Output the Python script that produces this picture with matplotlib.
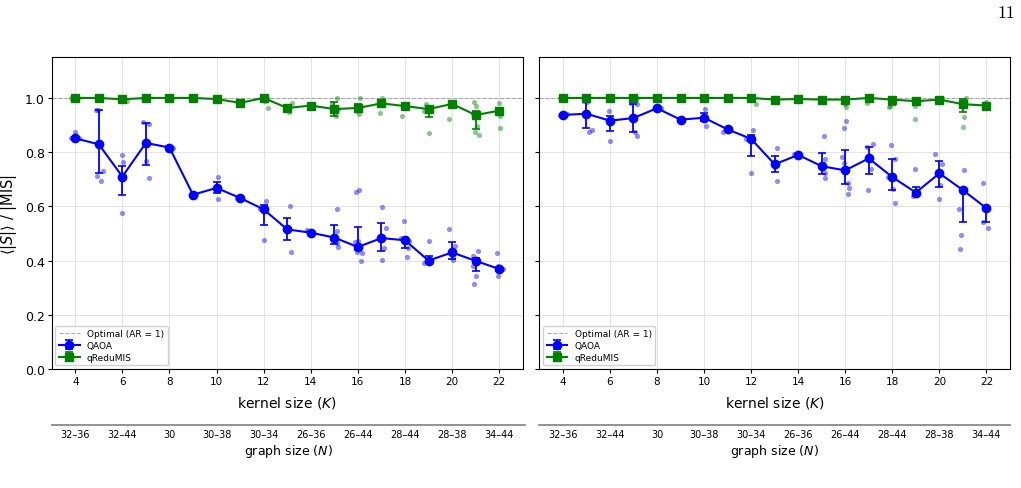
import matplotlib
matplotlib.use("Agg")
import matplotlib.pyplot as plt

# ---------------- data ----------------
kernel = [4, 5, 6, 7, 8, 9, 10, 11, 12, 13, 14, 15, 16, 17, 18, 19, 20, 21, 22]
kernel_ticks = [4, 6, 8, 10, 12, 14, 16, 18, 20, 22]
graph_labels = ["32–36", "32–44", "30", "30–38", "30–34",
                "26–36", "26–44", "28–44", "28–38", "34–44"]

# left panel
L_qaoa_mean = [0.851, 0.829, 0.710, 0.834, 0.817, 0.643, 0.668, 0.631, 0.589, 0.515,
               0.503, 0.485, 0.450, 0.483, 0.475, 0.400, 0.430, 0.399, 0.369]
L_qaoa_lo = [0.005, 0.106, 0.068, 0.082, 0.004, 0.0, 0.020, 0.004, 0.056, 0.040,
             0.006, 0.024, 0.012, 0.049, 0.030, 0.006, 0.024, 0.037, 0.006]
L_qaoa_hi = [0.005, 0.127, 0.040, 0.073, 0.004, 0.0, 0.021, 0.004, 0.017, 0.043,
             0.006, 0.045, 0.073, 0.057, 0.005, 0.018, 0.040, 0.011, 0.006]
L_redu_mean = [1.0, 1.0, 0.995, 1.0, 1.0, 1.0, 0.996, 0.982, 1.0, 0.963,
               0.972, 0.959, 0.963, 0.980, 0.970, 0.959, 0.978, 0.937, 0.953]
L_redu_lo = [0.0, 0.0, 0.003, 0.002, 0.0, 0.0, 0.002, 0.003, 0.010, 0.006,
             0.004, 0.024, 0.015, 0.005, 0.006, 0.029, 0.010, 0.051, 0.010]
L_redu_hi = [0.0, 0.0, 0.003, 0.002, 0.0, 0.0, 0.002, 0.003, 0.010, 0.006,
             0.004, 0.027, 0.015, 0.005, 0.006, 0.010, 0.010, 0.016, 0.010]

L_qaoa_pts_k = [3.89, 3.97, 4.17, 3.80, 4.87, 4.98, 4.94, 5.19, 5.08, 5.99, 5.97, 6.02,
                6.87, 7.12, 6.99, 7.12, 8.03, 8.17, 8.99, 9.13, 10.06, 10.07, 9.94,
                10.87, 11.04, 12.09, 12.00, 11.86, 13.12, 13.16, 13.02, 13.84, 13.93, 14.06,
                15.12, 15.15, 15.13, 15.12, 14.98, 15.94, 16.04, 15.99, 15.87, 16.14, 16.17, 15.97,
                17.01, 17.18, 17.12, 17.01, 17.97, 18.07, 18.13, 18.18, 17.85,
                19.02, 18.82, 19.02, 19.87, 20.13, 20.04, 19.96, 20.04,
                20.89, 21.11, 20.91, 21.01, 20.94, 21.08, 21.91, 21.94, 22.07, 22.18, 21.96]
L_qaoa_pts_v = [0.851, 0.873, 0.851, 0.851, 0.957, 0.955, 0.713, 0.729, 0.694, 0.790, 0.574, 0.765,
                0.911, 0.905, 0.766, 0.706, 0.817, 0.815, 0.643, 0.645, 0.710, 0.627, 0.667,
                0.631, 0.628, 0.621, 0.475, 0.590, 0.600, 0.432, 0.515, 0.513, 0.498, 0.503,
                0.589, 0.451, 0.510, 0.464, 0.486, 0.654, 0.662, 0.474, 0.470, 0.397, 0.427, 0.433,
                0.597, 0.521, 0.445, 0.401, 0.545, 0.414, 0.445, 0.474, 0.483,
                0.472, 0.392, 0.400, 0.515, 0.453, 0.401, 0.430, 0.412,
                0.416, 0.435, 0.379, 0.343, 0.312, 0.394, 0.427, 0.344, 0.369, 0.368, 0.379]
L_redu_pts_k = [3.84, 4.13, 4.91, 5.05, 6.18, 6.87, 7.11, 8.10, 12.14, 12.20, 12.07,
                13.21, 13.08, 13.02, 13.99, 15.12, 15.09, 14.92, 15.15, 16.11, 15.94, 16.04, 15.97,
                17.01, 16.94, 17.05, 17.89, 18.00, 18.91, 19.02, 18.82, 19.87, 20.09, 20.00,
                20.94, 21.01, 21.08, 20.96, 21.15, 20.91, 22.00, 22.04, 22.04]
L_redu_pts_v = [1.0, 1.0, 1.0, 1.0, 0.990, 0.998, 1.0, 1.0, 1.0, 0.962, 0.988,
                0.980, 0.947, 0.954, 0.972, 1.0, 0.935, 0.980, 0.959, 1.0, 0.974, 0.941, 0.953,
                1.0, 0.943, 0.988, 0.935, 0.972, 0.978, 0.871, 0.953, 0.922, 0.983, 0.972,
                0.984, 0.969, 0.897, 0.873, 0.865, 0.941, 0.982, 0.935, 0.888]

# right panel
R_qaoa_mean = [0.937, 0.942, 0.916, 0.926, 0.962, 0.920, 0.927, 0.884, 0.849, 0.755,
               0.790, 0.748, 0.733, 0.777, 0.708, 0.651, 0.722, 0.660, 0.593]
R_qaoa_lo = [0.005, 0.054, 0.038, 0.053, 0.003, 0.003, 0.013, 0.004, 0.062, 0.029,
             0.004, 0.030, 0.052, 0.059, 0.046, 0.011, 0.052, 0.116, 0.049]
R_qaoa_hi = [0.005, 0.046, 0.016, 0.051, 0.003, 0.003, 0.016, 0.004, 0.016, 0.031,
             0.004, 0.049, 0.076, 0.043, 0.067, 0.022, 0.047, 0.004, 0.010]
R_redu_mean = [1.0, 1.0, 1.0, 1.0, 1.0, 1.0, 1.0, 1.0, 1.0, 0.994,
               0.996, 0.994, 0.994, 1.0, 0.994, 0.988, 0.994, 0.977, 0.972]
R_redu_lo = [0.0, 0.0, 0.0, 0.0, 0.0, 0.0, 0.0, 0.0, 0.0, 0.003,
             0.002, 0.003, 0.004, 0.002, 0.020, 0.010, 0.003, 0.027, 0.004]
R_redu_hi = [0.0, 0.0, 0.0, 0.0, 0.0, 0.0, 0.0, 0.0, 0.0, 0.003,
             0.002, 0.003, 0.004, 0.002, 0.005, 0.010, 0.003, 0.019, 0.004]

R_qaoa_pts_k = [3.89, 4.17, 4.03, 4.90, 5.02, 5.10, 5.23, 5.98, 5.99, 6.88, 7.16, 7.06, 7.14,
                8.15, 9.00, 10.06, 10.07, 10.82, 10.95, 12.08, 11.98, 11.80, 13.10, 13.12,
                13.84, 14.06, 15.10, 15.16, 15.12, 15.13,
                16.02, 15.94, 15.86, 15.96, 15.91, 16.18, 16.13, 16.12,
                17.16, 16.97, 17.09, 16.92, 17.94, 18.12, 18.01, 18.10, 17.80,
                18.96, 18.96, 18.86, 19.82, 20.09, 19.99, 20.03,
                21.05, 20.84, 20.92, 20.89, 21.09, 21.85, 21.85, 22.08, 21.97]
R_qaoa_pts_v = [0.937, 0.940, 0.934, 0.988, 0.984, 0.873, 0.883, 0.951, 0.840, 0.982, 0.977, 0.873, 0.860,
                0.962, 0.918, 0.959, 0.897, 0.876, 0.886, 0.881, 0.724, 0.850, 0.817, 0.695,
                0.793, 0.785, 0.860, 0.775, 0.722, 0.706,
                0.914, 0.889, 0.781, 0.761, 0.738, 0.668, 0.685, 0.645,
                0.829, 0.661, 0.738, 0.818, 0.828, 0.775, 0.664, 0.611, 0.710,
                0.739, 0.648, 0.640, 0.793, 0.758, 0.626, 0.680,
                0.733, 0.589, 0.496, 0.442, 0.664, 0.685, 0.541, 0.519, 0.594]
R_redu_pts_k = [3.89, 4.10, 4.90, 5.02, 6.92, 7.14, 12.19, 13.07, 15.05, 15.99, 16.05, 15.89,
                16.91, 17.84, 17.90, 18.96, 18.96, 20.09, 21.06, 21.02, 21.12, 21.97]
R_redu_pts_v = [1.0, 1.0, 0.995, 1.0, 1.0, 1.0, 0.977, 0.992, 0.994, 0.978, 0.966, 0.997,
                0.980, 0.966, 0.972, 0.921, 0.972, 1.0, 0.931, 0.894, 0.998, 0.984]

# ---------------- figure ----------------
W, H = 1021, 489
fig = plt.figure(figsize=(W / 100, H / 100), dpi=100)

BLUE = "#0000ff"
GREEN = "#008000"


def fx(px):
    return px / W


def fy(py):
    return 1 - py / H


main_boxes = [(51.7, 522.7), (539.3, 1010.0)]
panels = [
    (L_qaoa_mean, L_qaoa_lo, L_qaoa_hi, L_redu_mean, L_redu_lo, L_redu_hi,
     L_qaoa_pts_k, L_qaoa_pts_v, L_redu_pts_k, L_redu_pts_v),
    (R_qaoa_mean, R_qaoa_lo, R_qaoa_hi, R_redu_mean, R_redu_lo, R_redu_hi,
     R_qaoa_pts_k, R_qaoa_pts_v, R_redu_pts_k, R_redu_pts_v),
]

top_px, bot_px = 58.3, 370.0
sec_px = 426.0

for i, ((x0, x1), p) in enumerate(zip(main_boxes, panels)):
    (qm, qlo, qhi, rm, rlo, rhi, qk, qv, rk, rv) = p
    ax = fig.add_axes([fx(x0), fy(bot_px), fx(x1 - x0), (bot_px - top_px) / H])
    ax.grid(True, color="#dddddd", linewidth=0.7, alpha=0.8)
    ax.set_axisbelow(True)

    ax.scatter(qk, qv, s=14, color=BLUE, alpha=0.45, linewidths=0, zorder=2)
    ax.scatter(rk, rv, s=14, color=GREEN, alpha=0.45, linewidths=0, zorder=2)

    opt = ax.axhline(1.0, color="#999999", linestyle="--", linewidth=0.8,
                     alpha=0.8, label="Optimal (AR = 1)", zorder=1)
    e1 = ax.errorbar(kernel, qm, yerr=[qlo, qhi], color=BLUE, marker="o",
                     markersize=6, linewidth=1.5, elinewidth=1.3, capsize=3,
                     capthick=1.2, label="QAOA", zorder=3)
    e2 = ax.errorbar(kernel, rm, yerr=[rlo, rhi], color=GREEN, marker="s",
                     markersize=5.5, linewidth=1.5, elinewidth=1.3, capsize=3,
                     capthick=1.2, label="qReduMIS", zorder=3)

    ax.set_xlim(3, 23)
    ax.set_ylim(0, 1.15)
    ax.set_xticks(kernel_ticks)
    ax.set_yticks([0.0, 0.2, 0.4, 0.6, 0.8, 1.0])
    ax.tick_params(axis="x", labelsize=7.5, length=3, pad=2)
    ax.tick_params(axis="y", labelsize=9, length=3, pad=2)
    if i == 0:
        ax.set_ylabel(r"$\langle |S| \rangle$ / |MIS|", fontsize=10.5, labelpad=4)
    else:
        ax.tick_params(axis="y", labelleft=False)
    ax.set_xlabel(r"kernel size ($K$)", fontsize=10, labelpad=6)

    leg = ax.legend(loc="lower left", fontsize=6.5, framealpha=0.9,
                    edgecolor="#cccccc", labelspacing=0.3, borderpad=0.4,
                    handlelength=2.3, borderaxespad=0.4)

    # secondary axis (graph size)
    sx1 = x1 + 2 if i == 0 else x1
    sec = fig.add_axes([fx(x0), fy(sec_px), fx(sx1 - x0), 0.0001])
    sec.set_xlim(3, 23 + (sx1 - x1) / ((x1 - x0) / 20))
    for s in ["top", "left", "right"]:
        sec.spines[s].set_visible(False)
    sec.spines["bottom"].set_color("#8a8a8a")
    sec.spines["bottom"].set_linewidth(1.3)
    sec.set_yticks([])
    sec.set_xticks(kernel_ticks)
    sec.set_xticklabels(graph_labels)
    sec.tick_params(axis="x", length=0, labelsize=7, pad=3)
    sec.set_xlabel(r"graph size ($N$)", fontsize=9, labelpad=2)
    sec.patch.set_visible(False)

fig.text(fx(1015), fy(13), "11", fontsize=13, family="cmr10", ha="right", va="center")

fig.savefig("out.png", dpi=100)
